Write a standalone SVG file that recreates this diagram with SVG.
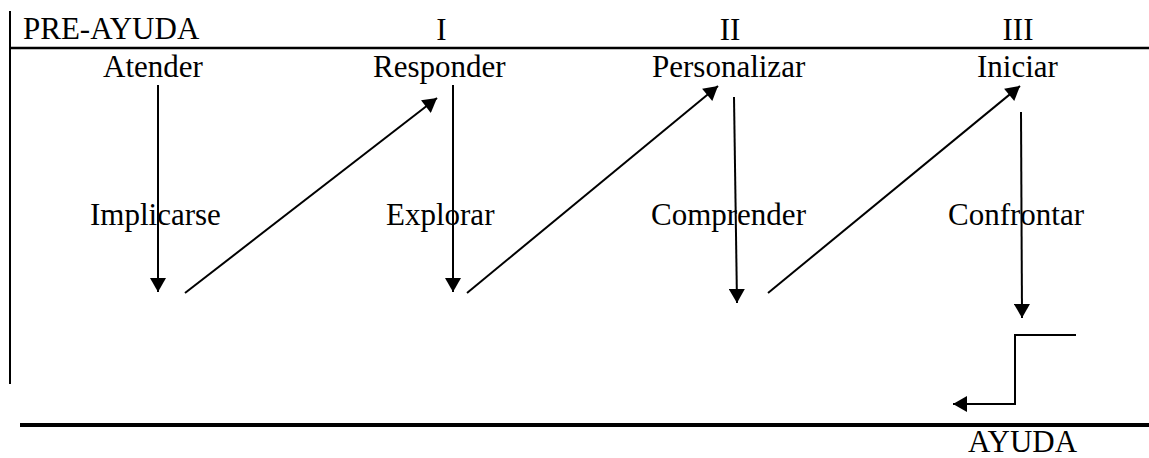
<svg xmlns="http://www.w3.org/2000/svg" width="1149" height="458" viewBox="0 0 1149 458">
  <style>
    .lbl { font-family: "Liberation Serif", "Times New Roman", serif; font-size: 31px; fill: #000; }
    .mid { text-anchor: middle; }
    .rule { stroke: #000; fill: none; }
    .arr { stroke: #000; stroke-width: 2; fill: none; marker-end: url(#head); }
  </style>
  <defs>
    <marker id="head" markerUnits="userSpaceOnUse" markerWidth="16" markerHeight="16" viewBox="0 0 14 16" refX="14" refY="8" orient="auto">
      <path d="M0,0 L14,8 L0,16 z" fill="#000"/>
    </marker>
  </defs>
  <rect width="1149" height="458" fill="#fff"/>

  <!-- frame rules -->
  <g id="frame">
    <line class="rule" x1="10" y1="11" x2="10" y2="384" stroke-width="2"/>
    <line class="rule" x1="10" y1="48" x2="1149" y2="48" stroke-width="2.5"/>
    <line class="rule" x1="20" y1="425" x2="1149" y2="425" stroke-width="4"/>
  </g>

  <!-- stage headings -->
  <g id="headings">
    <text class="lbl" x="23" y="39">PRE-AYUDA</text>
    <text class="lbl mid" x="441.5" y="40">I</text>
    <text class="lbl mid" x="730" y="40">II</text>
    <text class="lbl mid" x="1018" y="40">III</text>
  </g>

  <g id="atender"><text class="lbl" x="103" y="77">Atender</text></g>
  <g id="responder"><text class="lbl" x="373" y="77">Responder</text></g>
  <g id="personalizar"><text class="lbl" x="652" y="77">Personalizar</text></g>
  <g id="iniciar"><text class="lbl" x="977" y="77">Iniciar</text></g>

  <g id="implicarse"><text class="lbl" x="90" y="225">Implicarse</text></g>
  <g id="explorar"><text class="lbl" x="386" y="225">Explorar</text></g>
  <g id="comprender"><text class="lbl" x="651" y="225">Comprender</text></g>
  <g id="confrontar"><text class="lbl" x="948" y="225">Confrontar</text></g>

  <g id="ayuda"><text class="lbl" x="968" y="452">AYUDA</text></g>

  <!-- connectors -->
  <g id="connectors">
    <line class="arr" x1="158" y1="85" x2="158" y2="292"/>
    <line class="arr" x1="185" y1="293" x2="437" y2="98"/>
    <line class="arr" x1="453" y1="85" x2="453" y2="292"/>
    <line class="arr" x1="467" y1="293" x2="718" y2="86"/>
    <line class="arr" x1="734" y1="97" x2="737" y2="303"/>
    <line class="arr" x1="768" y1="293" x2="1020" y2="86"/>
    <line class="arr" x1="1021" y1="112" x2="1022" y2="318"/>
    <polyline class="arr" points="1076,335 1015,335 1015,404 953,404"/>
  </g>
</svg>
